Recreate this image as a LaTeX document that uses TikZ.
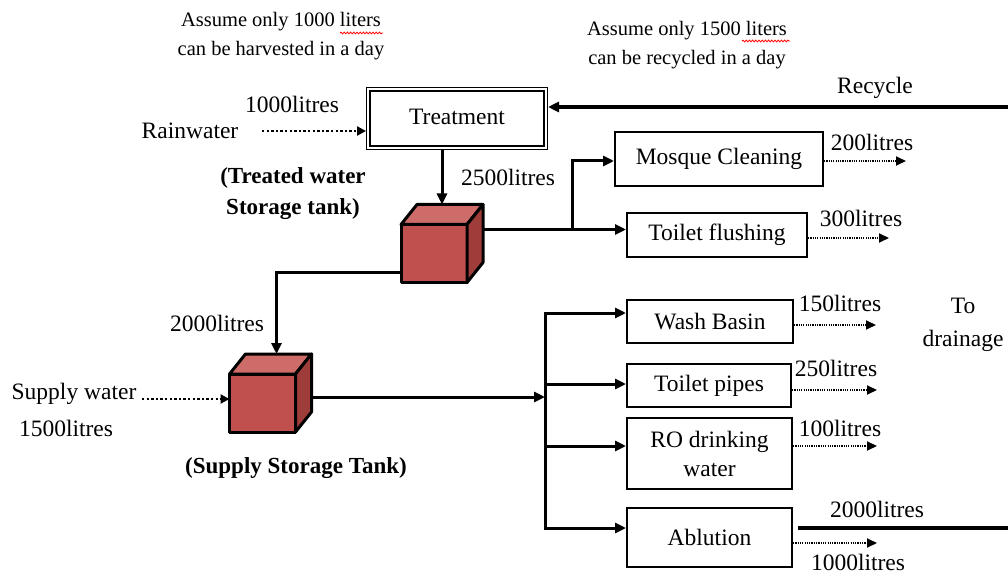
\documentclass[tikz,border=0pt]{standalone}
\usepackage{fontspec}
\setmainfont{Liberation Serif}
\usetikzlibrary{arrows.meta,calc,decorations.pathmorphing}

\definecolor{tankred}{RGB}{192,80,77}
\definecolor{tanktop}{RGB}{206,108,105}
\definecolor{tankside}{RGB}{158,61,58}

% top and side faces of a storage tank drawn behind its front face #1
\newcommand\tankfaces[1]{%
  \filldraw[fill=tanktop, line width=3pt, line join=round]
    (#1.north west) -- ++(16,-20) -- ++(66,0) -- (#1.north east) -- cycle;
  \filldraw[fill=tankside, line width=3pt, line join=round]
    (#1.north east) -- ++(16,-20) -- ++(0,58) -- (#1.south east) -- cycle;
}

\begin{document}
\begin{tikzpicture}[x=1pt, y=-1pt,
  lbl/.style={font=\fontsize{23.5}{30}\selectfont, inner sep=0pt, align=center},
  note/.style={font=\fontsize{20.5}{29}\selectfont, inner sep=0pt, align=center},
  boldlbl/.style={font=\fontsize{23}{31}\selectfont\bfseries, inner sep=0pt, align=center},
  usebox/.style={draw, line width=2pt, inner sep=0pt, align=center,
    font=\fontsize{23.5}{29}\selectfont},
  tankfront/.style={draw, fill=tankred, line width=3pt, line join=round,
    minimum width=66pt, minimum height=58pt, inner sep=0pt, outer sep=0pt},
  conn/.style={line width=3pt, -{Triangle[length=11pt,width=10pt]}},
  pipe/.style={line width=3pt},
  heavy/.style={line width=3.8pt},
  dotthick/.style={line width=2.6pt, dash pattern=on 2.4pt off 2.2pt,
    -{Triangle[length=9pt,width=9pt]}},
  dotthin/.style={line width=1.8pt, dash pattern=on 1.2pt off 1.1pt,
    -{Triangle[length=10pt,width=9pt]}},
  spell/.style={red, line width=0.8pt, decorate,
    decoration={snake, segment length=3.2pt, amplitude=0.9pt}}
]
\useasboundingbox (0,0) rectangle (1008,577);

% notes
\node[note] (note1) at (281,36.5) {Assume only 1000 liters\\can be harvested in a day};
\node[note] (note2) at (687,45.5) {Assume only 1500 liters\\can be recycled in a day};
\draw[spell] (340,33) -- (383,33);
\draw[spell] (742,41) -- (790,41);

% treatment and inputs
\node[draw, double, line width=1.4pt, double distance=2pt, outer sep=2.4pt,
  minimum width=177.2pt, minimum height=58.2pt, inner sep=0pt,
  font=\fontsize{23.5}{29}\selectfont] (treat) at (457,118.5) {\raisebox{3pt}{Treatment}};
\node[lbl] (rainamt) at (292,104) {1000litres};
\node[lbl] (rain) at (190,131) {Rainwater};
\node[lbl] (recycle) at (875,88) {Recycle};
\node[boldlbl] (treatedlbl) at (293,194) {(Treated water\\Storage tank)};
\node[lbl] (amt2500) at (508,177) {2500litres};

% storage tanks
\node[tankfront] (t1) at (434,253.5) {};
\tankfaces{t1}
\node[tankfront] (t2) at (262.5,403) {};
\tankfaces{t2}

\node[lbl] (amt2000) at (217,323) {2000litres};
\node[lbl] (supply) at (74,394) {Supply water};
\node[lbl] (supplyamt) at (66,428) {1500litres};
\node[boldlbl] (supplylbl) at (296,468) {(Supply Storage Tank)};

% uses
\node[usebox, minimum width=208pt, minimum height=54pt] (mosque) at (719,159) {Mosque Cleaning};
\node[usebox, minimum width=180pt, minimum height=44pt] (flush) at (717,235) {Toilet flushing};
\node[usebox, minimum width=166pt, minimum height=43pt] (wash) at (710,321.5) {Wash Basin};
\node[usebox, minimum width=164pt, minimum height=43pt] (tpipes) at (709,385.5) {Toilet pipes};
\node[usebox, minimum width=165pt, minimum height=71pt] (ro) at (709.5,453.5) {RO drinking\\water};
\node[usebox, minimum width=165pt, minimum height=59pt] (abl) at (709.5,537.5) {Ablution};

% outflow amounts
\node[lbl] (out200) at (872,142) {200litres};
\node[lbl] (out300) at (861,218) {300litres};
\node[lbl] (out150) at (840,303) {150litres};
\node[lbl] (out250) at (836,368) {250litres};
\node[lbl] (out100) at (840,428) {100litres};
\node[lbl] (out2000) at (877,509) {2000litres};
\node[lbl] (out1000) at (858,562) {1000litres};
\node[lbl, font=\fontsize{23.5}{33}\selectfont] (drain) at (963,325) {To\\drainage};

% connectors
\coordinate (rain0) at (262,131);
\draw[dotthick] (rain0) -- (rain0 -| treat.west);
\coordinate (recin) at (1008,107);
\draw[heavy, -{Triangle[length=11pt,width=10pt]}] (recin) -- (recin -| treat.east);

\coordinate (t1in) at ($(t1.north)+(8,-20)$);
\draw[conn] (treat.south -| t1in) -- (t1in);

\coordinate (c1out) at ($(t1.north east)+(16,5)$);
\coordinate (j1) at ($(c1out)+(89,0)$);
\draw[conn] (c1out) -- (c1out -| flush.west);
\draw[conn] (j1) |- ([yshift=-2pt]mosque.west);

\coordinate (c1left) at ($(t1.south west)+(0,-10)$);
\coordinate (t2in) at ($(t2.north)+(14,-20)$);
\draw[conn] (c1left) -| (t2in);

\coordinate (sup0) at (142,399);
\draw[dotthick] (sup0) -- (sup0 -| t2.west);

\coordinate (c2out) at ($(t2.east)+(16,-6)$);
\coordinate (bus) at (545,397);
\draw[conn] (c2out) -- (bus);
\coordinate (b1) at (545,313);
\coordinate (b2) at (545,384);
\coordinate (b3) at (545,446);
\coordinate (b4) at (545,528);
\draw[pipe, line cap=rect] (b1) -- (b4);
\draw[conn] (b1) -- (b1 -| wash.west);
\draw[conn] (b2) -- (b2 -| tpipes.west);
\draw[conn] (b3) -- (b3 -| ro.west);
\draw[conn] (b4) -- (b4 -| abl.west);

% outflows
\draw[dotthin] ([yshift=-2pt]mosque.east) -- ++(82,0);
\draw[dotthin] ([yshift=-3pt]flush.east) -- ++(81,0);
\draw[dotthin] ([yshift=-3.5pt]wash.east) -- ++(82,0);
\draw[dotthin] ([yshift=-4.5pt]tpipes.east) -- ++(85,0);
\draw[dotthin] ([yshift=7.5pt]ro.east) -- ++(84,0);
\draw[dotthin] ([yshift=-5.5pt]abl.east) -- ++(84,0);
\coordinate (drainR) at (1008,528);
\draw[heavy] (drainR -| abl.east) ++(5,0) -- (drainR);
\end{tikzpicture}
\end{document}
